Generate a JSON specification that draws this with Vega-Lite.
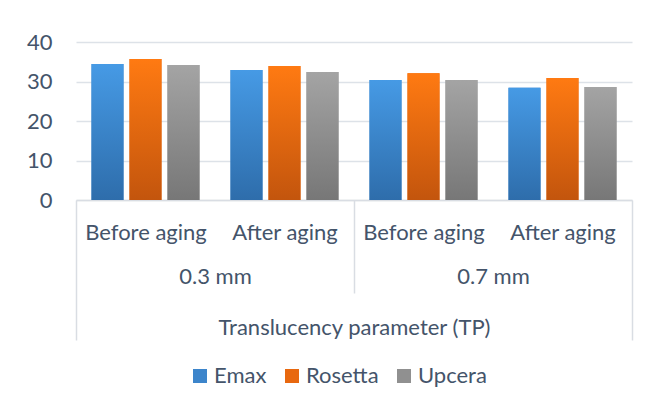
{
  "$schema": "https://vega.github.io/schema/vega-lite/v6.json",
  "autosize": "none",
  "width": 556,
  "height": 158,
  "padding": {"left": 76, "top": 42, "right": 17, "bottom": 208},
  "background": "white",
  "data": {
    "values": [
      {"cat": "0.3 mm|Before aging", "material": "Emax", "value": 34.4},
      {"cat": "0.3 mm|Before aging", "material": "Rosetta", "value": 35.7},
      {"cat": "0.3 mm|Before aging", "material": "Upcera", "value": 34.2},
      {"cat": "0.3 mm|After aging", "material": "Emax", "value": 32.9},
      {"cat": "0.3 mm|After aging", "material": "Rosetta", "value": 33.9},
      {"cat": "0.3 mm|After aging", "material": "Upcera", "value": 32.4},
      {"cat": "0.7 mm|Before aging", "material": "Emax", "value": 30.4},
      {"cat": "0.7 mm|Before aging", "material": "Rosetta", "value": 32.1},
      {"cat": "0.7 mm|Before aging", "material": "Upcera", "value": 30.4},
      {"cat": "0.7 mm|After aging", "material": "Emax", "value": 28.4},
      {"cat": "0.7 mm|After aging", "material": "Rosetta", "value": 30.9},
      {"cat": "0.7 mm|After aging", "material": "Upcera", "value": 28.6}
    ]
  },
  "encoding": {
    "x": {
      "field": "cat", "type": "nominal",
      "scale": {"domain": ["0.3 mm|Before aging", "0.3 mm|After aging", "0.7 mm|Before aging", "0.7 mm|After aging"], "paddingInner": 0, "paddingOuter": 0}
    },
    "xOffset": {
      "field": "material", "type": "nominal",
      "scale": {"domain": ["Emax", "Rosetta", "Upcera"], "paddingInner": 0.158, "paddingOuter": 0.408}
    },
    "y": {
      "field": "value", "type": "quantitative",
      "scale": {"domain": [0, 40], "nice": false},
      "axis": {"values": [0, 10, 20, 30, 40], "title": null}
    }
  },
  "layer": [
    {
      "mark": {"type": "bar"},
      "encoding": {
        "x": {
          "field": "cat", "type": "nominal",
          "axis": {
            "orient": "bottom",
            "tickBand": "extent",
            "ticks": true,
            "tickSize": 93,
            "tickOpacity": {"condition": {"test": "datum.value === '0.3 mm|After aging'", "value": 1}, "value": 0},
            "domain": true,
            "labelExpr": "split(datum.value, '|')[1]",
            "labelPadding": -71,
            "labelAngle": 0,
            "title": null
          }
        },
        "color": {
          "field": "material", "type": "nominal",
          "scale": {"domain": ["Emax", "Rosetta", "Upcera"], "range": ["#3c85cb", "#e8680f", "#909090"]},
          "legend": {
            "orient": "none",
            "legendX": 113,
            "legendY": 323,
            "direction": "horizontal",
            "title": null,
            "symbolType": "square",
            "symbolSize": 196,
            "symbolStrokeWidth": 0,
            "labelFont": "Lato",
            "labelFontSize": 22,
            "labelColor": "#44546a",
            "labelOffset": 3,
            "columnPadding": 14
          }
        }
      }
    },
    {
      "transform": [{"filter": "datum.material === 'Emax'"}],
      "mark": {"type": "bar", "color": {"gradient": "linear", "x1": 0, "y1": 0, "x2": 0, "y2": 1, "stops": [{"offset": 0, "color": "#469ae5"}, {"offset": 1, "color": "#2e6dab"}]}},
      "encoding": {
        "x": {
          "field": "cat", "type": "nominal",
          "axis": {
            "orient": "bottom",
            "tickBand": "extent",
            "ticks": true,
            "tickSize": 140,
            "tickOpacity": {"condition": {"test": "datum.value === '0.7 mm|After aging'", "value": 1}, "value": 0},
            "domain": false,
            "labelExpr": "datum.value === '0.3 mm|Before aging' ? '0.3 mm' : (datum.value === '0.7 mm|Before aging' ? '0.7 mm' : '')",
            "labelOffset": 69.5,
            "labelPadding": -74,
            "labelAngle": 0,
            "title": "Translucency parameter (TP)",
            "titleY": 134,
            "titleBaseline": "alphabetic"
          }
        }
      }
    },
    {
      "transform": [{"filter": "datum.material === 'Rosetta'"}],
      "mark": {"type": "bar", "color": {"gradient": "linear", "x1": 0, "y1": 0, "x2": 0, "y2": 1, "stops": [{"offset": 0, "color": "#ff7a12"}, {"offset": 1, "color": "#c3550d"}]}},
      "encoding": {
        "x": {
          "field": "cat", "type": "nominal",
          "axis": {
            "orient": "bottom",
            "bandPosition": 0,
            "ticks": true,
            "tickSize": 140,
            "tickOpacity": {"condition": {"test": "datum.value === '0.3 mm|Before aging'", "value": 1}, "value": 0},
            "domain": false,
            "labels": false,
            "title": null
          }
        }
      }
    },
    {
      "transform": [{"filter": "datum.material === 'Upcera'"}],
      "mark": {"type": "bar", "color": {"gradient": "linear", "x1": 0, "y1": 0, "x2": 0, "y2": 1, "stops": [{"offset": 0, "color": "#a4a4a4"}, {"offset": 1, "color": "#777777"}]}},
      "encoding": {"x": {"field": "cat", "type": "nominal", "axis": null}}
    }
  ],
  "resolve": {"axis": {"x": "independent"}},
  "config": {
    "view": {"stroke": null},
    "axis": {
      "labelFont": "Lato",
      "labelFontSize": 22,
      "labelColor": "#44546a",
      "titleFont": "Lato",
      "titleFontSize": 22,
      "titleFontWeight": "normal",
      "titleColor": "#44546a",
      "domainColor": "#d9dde3",
      "domainWidth": 1.5,
      "tickColor": "#d9dde3",
      "tickWidth": 1.5,
      "gridColor": "#dde2e8",
      "gridWidth": 1.5
    },
    "axisX": {"grid": false},
    "axisY": {"domain": false, "ticks": false, "grid": true, "labelPadding": 24}
  }
}
